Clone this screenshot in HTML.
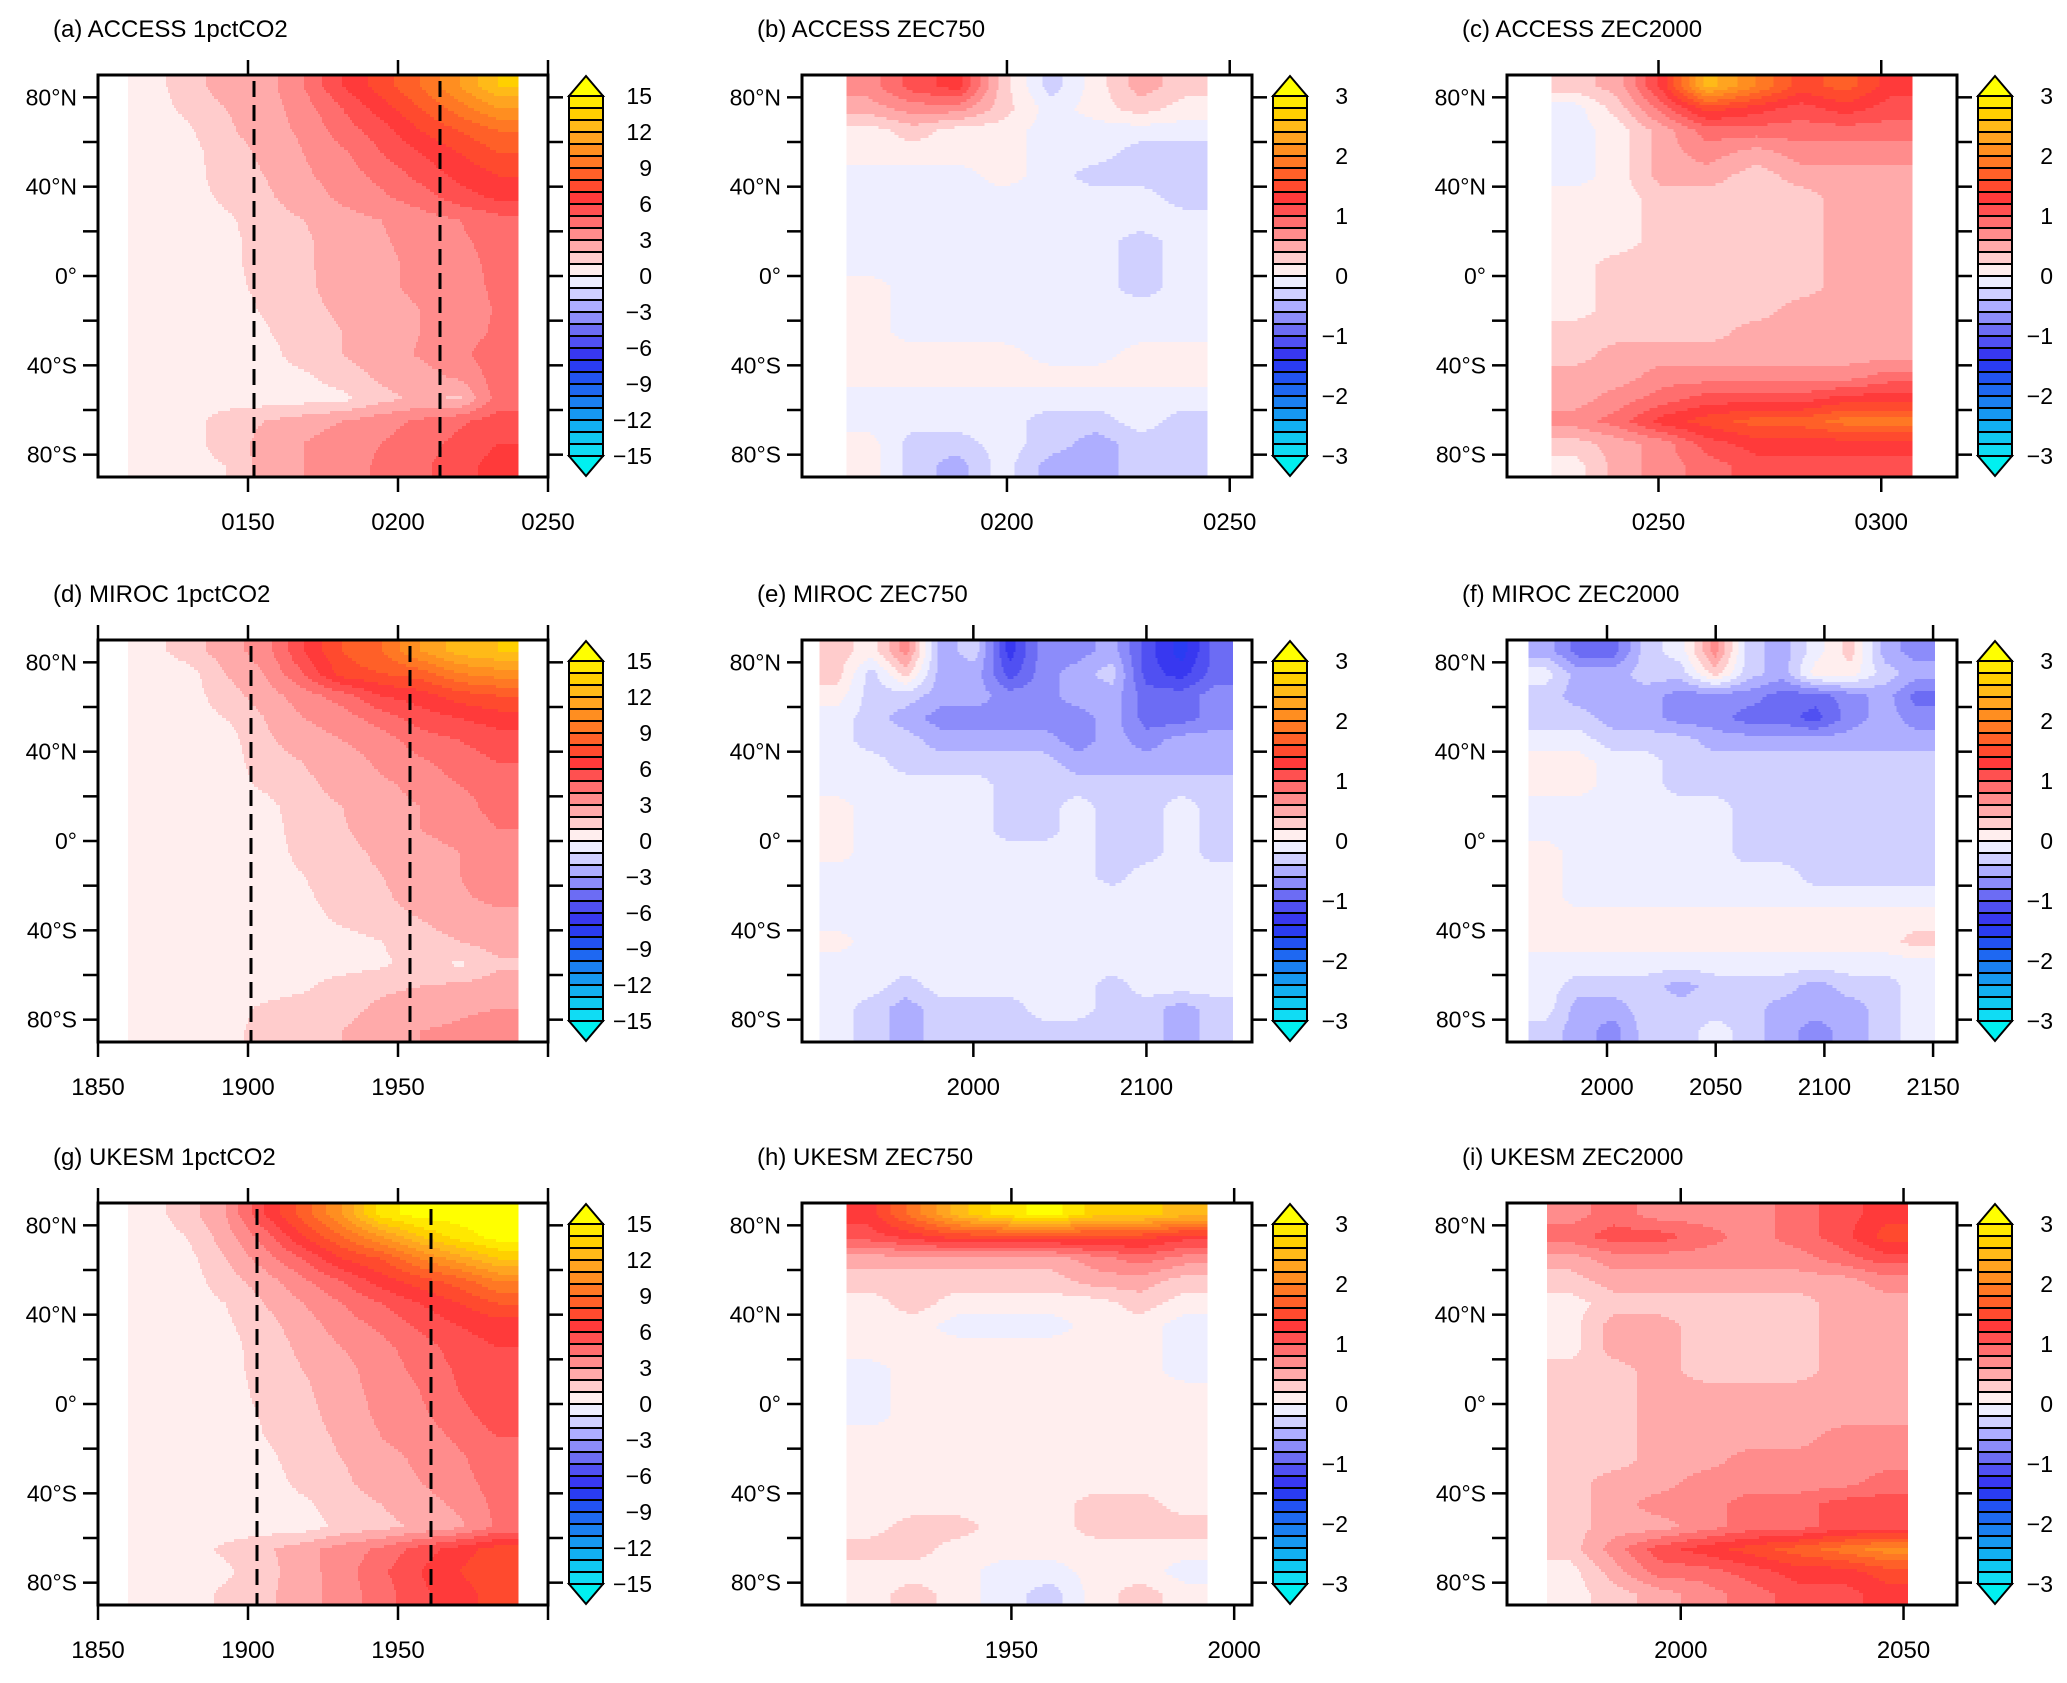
<!DOCTYPE html>
<html><head><meta charset="utf-8">
<style>
html,body{margin:0;padding:0;background:#fff;}
svg text{font-family:"Liberation Sans",Arial,sans-serif;fill:#000;}
</style></head>
<body>
<svg id="fig" xmlns="http://www.w3.org/2000/svg" width="2067" height="1678" viewBox="0 0 2067 1678">
<rect x="0" y="0" width="2067" height="1678" fill="#fff"/>
</svg>
<script>
// ---------- data ----------
const latCenters=[85,75,65,55,45,35,25,15,5,-5,-15,-25,-35,-45,-55,-65,-75,-85];
const latTicks=[80,60,40,20,0,-20,-40,-60,-80];
const latLabels=['80°N','','40°N','','0°','','40°S','','80°S'];
const cbLabels15=['15','12','9','6','3','0','−3','−6','−9','−12','−15'];
const cbValues15=[15,12,9,6,3,0,-3,-6,-9,-12,-15];
const cbLabels3=['3','2','1','0','−1','−2','−3'];
const cbValues3=[3,2,1,0,-1,-2,-3];

const aYears=[116.5,129.5,142.5,155.5,168.5,181.5,194.5,207.5,220.5,233.5];
const aValues=[
[0.5,1.5,2.5,2.5,4,6,7.5,9,11,13],
[0.5,1.2,2,2.5,3.5,5,6.5,8,9.5,11],
[0.5,0.8,1.8,2.5,3.2,4.5,5.5,7,8,9],
[0.5,0.6,1.5,2.2,3,3.8,5,6,7,8],
[0.5,0.5,1.5,2,2.8,3.5,4.3,5.3,6.3,7],
[0.5,0.5,1.2,1.8,2.5,3.2,3.8,4.5,5.5,6.2],
[0.5,0.5,0.8,1.5,2,2.6,3,3.5,4,4.6],
[0.5,0.5,0.7,1.4,1.8,2.5,2.9,3.3,3.8,4.4],
[0.5,0.5,0.7,1.4,1.8,2.5,2.8,3.2,3.6,4.3],
[0.5,0.5,0.6,1.3,1.8,2.4,2.8,3.2,3.6,4.2],
[0.5,0.5,0.5,1.1,1.7,2.2,2.7,3,3.5,4.1],
[0.5,0.5,0.5,0.9,1.5,2,2.5,3,3.5,4.2],
[0.5,0.5,0.5,0.6,1.5,2,2.6,3.1,3.8,4.5],
[0.5,0.5,0.5,0.5,0.8,1.5,2.2,2.6,3.2,4.5],
[0.5,0.5,0.5,0.5,0.6,0.7,1.7,2.2,1.8,4.5],
[0.5,0.5,1.5,2,2.5,3,3.6,4.2,4.8,5.5],
[0.5,0.5,1.5,2.3,3,3.6,4,4.6,5.3,6],
[0.5,0.5,1,2.5,3,3.5,4.2,4.8,5.5,6.5]];

const bYears=[169,179,189,199,210,220,230,240];
const bValues=[
[0.7,1.1,1.3,0.3,-0.3,0.1,0.5,0.3],
[0.5,0.7,0.7,0.3,-0.1,0.1,0.3,0.1],
[0.1,0.3,0.1,0.1,-0.1,-0.1,-0.1,-0.1],
[0.1,0.1,0.1,0.1,-0.1,-0.1,-0.3,-0.3],
[-0.1,-0.1,-0.1,0.1,-0.1,-0.3,-0.3,-0.3],
[-0.1,-0.1,-0.1,-0.1,-0.1,-0.1,-0.1,-0.3],
[-0.1,-0.1,-0.1,-0.1,-0.1,-0.1,-0.1,-0.1],
[-0.1,-0.1,-0.1,-0.1,-0.1,-0.1,-0.3,-0.1],
[-0.1,-0.1,-0.1,-0.1,-0.1,-0.1,-0.3,-0.1],
[0.1,-0.1,-0.1,-0.1,-0.1,-0.1,-0.3,-0.1],
[0.1,-0.1,-0.1,-0.1,-0.1,-0.1,-0.1,-0.1],
[0.1,-0.1,-0.1,-0.1,-0.1,-0.1,-0.1,-0.1],
[0.1,0.1,0.1,0.1,-0.1,-0.1,0.1,0.1],
[0.1,0.1,0.1,0.1,0.1,0.1,0.1,0.1],
[-0.1,-0.1,-0.1,-0.1,-0.1,-0.1,-0.1,-0.1],
[-0.1,-0.1,-0.1,-0.1,-0.3,-0.3,-0.1,-0.3],
[0.1,-0.3,-0.3,-0.1,-0.3,-0.5,-0.3,-0.3],
[0.1,-0.3,-0.5,-0.1,-0.5,-0.5,-0.3,-0.3]];

const cYears=[231,241,251,261,272,282,292,302];
const cValues=[
[0.3,0.5,1.3,2.5,2.0,1.5,1.7,1.3],
[-0.1,0.3,0.9,1.5,1.3,1.1,1.3,1.1],
[-0.1,0.1,0.5,0.9,0.9,0.9,0.9,0.9],
[-0.1,0.1,0.5,0.7,0.5,0.7,0.7,0.7],
[-0.1,0.1,0.5,0.5,0.3,0.5,0.5,0.5],
[0.1,0.1,0.3,0.3,0.3,0.3,0.5,0.5],
[0.1,0.1,0.3,0.3,0.3,0.3,0.5,0.5],
[0.1,0.1,0.3,0.3,0.3,0.3,0.5,0.5],
[0.1,0.3,0.3,0.3,0.3,0.3,0.5,0.5],
[0.1,0.3,0.3,0.3,0.3,0.3,0.5,0.5],
[0.1,0.3,0.3,0.3,0.3,0.5,0.5,0.5],
[0.3,0.3,0.3,0.3,0.5,0.5,0.5,0.5],
[0.3,0.5,0.5,0.5,0.5,0.5,0.5,0.5],
[0.5,0.5,0.7,0.7,0.7,0.7,0.7,0.9],
[0.5,0.7,0.9,1.1,1.1,1.1,1.3,1.3],
[0.7,0.9,1.3,1.5,1.7,1.7,1.9,1.9],
[0.3,0.5,0.7,1.1,1.3,1.3,1.3,1.3],
[0.1,0.5,0.7,0.9,1.1,1.1,1.1,1.1]];

const dYears=[1866.5,1879.5,1892.5,1905.5,1918.5,1931.5,1944.5,1957.5,1970.5,1983.5];
const dValues=[
[0.5,1.5,2.5,3.5,6,8,9,11,12.5,13],
[0.5,0.5,2,3,5,7.5,8,8.5,10,10.5],
[0.5,0.5,1.5,2.5,3.5,4.5,6,6.5,7.5,8],
[0.5,0.5,1,2,3,3.5,4.5,5.5,6,6.5],
[0.5,0.5,0.5,1.8,2.5,3,3.5,4.5,5,5.5],
[0.5,0.5,0.5,1.5,2,2.5,3.2,3.8,4.5,5],
[0.5,0.5,0.5,1.2,1.8,2.3,2.8,3.3,4,4.5],
[0.5,0.5,0.5,0.6,1.6,2,2.6,3,3.5,4.5],
[0.5,0.5,0.5,0.5,1.5,1.9,2.5,3,3.2,4],
[0.5,0.5,0.5,0.5,1.3,1.7,2.2,2.8,3,3.5],
[0.5,0.5,0.5,0.5,1,1.6,2,2.6,3,3.5],
[0.5,0.5,0.5,0.5,0.8,1.5,1.8,2.5,2.9,3.2],
[0.5,0.5,0.5,0.5,0.6,1.2,1.6,2,2.6,2.8],
[0.5,0.5,0.5,0.5,0.5,0.6,1,1.5,2,2.5],
[0.5,0.5,0.5,0.5,0.5,0.5,0.8,1.5,0.8,1.8],
[0.5,0.5,0.5,0.5,0.8,1.5,1.8,2,2.2,2.5],
[0.5,0.5,0.5,1.2,1.5,1.7,2.2,2.5,2.8,3],
[0.5,0.5,0.5,1.5,1.6,2,2.5,3,3.2,3.5]];

const eYears=[1921,1941,1961,1981,2001,2021,2040,2060,2080,2100,2120,2140];
const eValues=[
[0.3,0.1,0.7,-0.5,-0.3,-1.3,-0.7,-0.7,-0.5,-1.1,-1.5,-0.9],
[0.3,-0.3,0.3,-0.5,-0.5,-1.1,-0.7,-0.5,-0.3,-1.1,-1.3,-0.9],
[0.1,-0.3,-0.3,-0.5,-0.5,-0.7,-0.7,-0.5,-0.5,-0.9,-0.9,-0.7],
[-0.1,-0.3,-0.5,-0.7,-0.7,-0.7,-0.7,-0.7,-0.5,-0.9,-0.9,-0.7],
[-0.1,-0.3,-0.3,-0.5,-0.5,-0.5,-0.5,-0.7,-0.5,-0.7,-0.5,-0.5],
[-0.1,-0.1,-0.3,-0.3,-0.3,-0.3,-0.3,-0.5,-0.5,-0.5,-0.5,-0.5],
[-0.1,-0.1,-0.1,-0.1,-0.1,-0.3,-0.3,-0.3,-0.3,-0.3,-0.3,-0.3],
[0.1,-0.1,-0.1,-0.1,-0.1,-0.3,-0.3,-0.1,-0.3,-0.3,-0.1,-0.3],
[0.1,-0.1,-0.1,-0.1,-0.1,-0.3,-0.3,-0.1,-0.3,-0.3,-0.1,-0.3],
[0.1,-0.1,-0.1,-0.1,-0.1,-0.1,-0.1,-0.1,-0.3,-0.3,-0.1,-0.3],
[-0.1,-0.1,-0.1,-0.1,-0.1,-0.1,-0.1,-0.1,-0.3,-0.1,-0.1,-0.1],
[-0.1,-0.1,-0.1,-0.1,-0.1,-0.1,-0.1,-0.1,-0.1,-0.1,-0.1,-0.1],
[-0.1,-0.1,-0.1,-0.1,-0.1,-0.1,-0.1,-0.1,-0.1,-0.1,-0.1,-0.1],
[0.1,-0.1,-0.1,-0.1,-0.1,-0.1,-0.1,-0.1,-0.1,-0.1,-0.1,-0.1],
[-0.1,-0.1,-0.1,-0.1,-0.1,-0.1,-0.1,-0.1,-0.1,-0.1,-0.1,-0.1],
[-0.1,-0.1,-0.3,-0.1,-0.1,-0.1,-0.1,-0.1,-0.3,-0.1,-0.1,-0.1],
[-0.1,-0.3,-0.5,-0.3,-0.3,-0.3,-0.1,-0.1,-0.3,-0.3,-0.5,-0.3],
[-0.1,-0.3,-0.5,-0.3,-0.3,-0.3,-0.3,-0.3,-0.3,-0.3,-0.5,-0.3]];

const fYears=[1972,1987,2003,2018,2034,2050,2065,2081,2096,2112,2128,2143];
const fValues=[
[-0.5,-0.9,-0.9,-0.3,-0.1,0.7,-0.3,-0.5,-0.1,0.3,-0.5,-0.7],
[-0.1,-0.5,-0.5,-0.3,-0.3,0.3,-0.3,-0.5,0.1,0.1,-0.3,-0.5],
[-0.3,-0.5,-0.5,-0.5,-0.7,-0.7,-0.7,-0.9,-0.9,-0.7,-0.5,-0.9],
[-0.3,-0.3,-0.5,-0.5,-0.7,-0.7,-0.9,-0.9,-1.1,-0.7,-0.5,-0.7],
[-0.1,-0.1,-0.3,-0.3,-0.3,-0.5,-0.5,-0.5,-0.5,-0.5,-0.5,-0.5],
[0.1,0.1,-0.1,-0.1,-0.3,-0.3,-0.3,-0.3,-0.3,-0.3,-0.3,-0.3],
[0.1,0.1,-0.1,-0.1,-0.3,-0.3,-0.3,-0.3,-0.3,-0.3,-0.3,-0.3],
[-0.1,-0.1,-0.1,-0.1,-0.1,-0.1,-0.3,-0.3,-0.3,-0.3,-0.3,-0.3],
[-0.1,-0.1,-0.1,-0.1,-0.1,-0.1,-0.3,-0.3,-0.3,-0.3,-0.3,-0.3],
[0.1,-0.1,-0.1,-0.1,-0.1,-0.1,-0.3,-0.3,-0.3,-0.3,-0.3,-0.3],
[0.1,-0.1,-0.1,-0.1,-0.1,-0.1,-0.1,-0.1,-0.3,-0.3,-0.3,-0.3],
[0.1,-0.1,-0.1,-0.1,-0.1,-0.1,-0.1,-0.1,-0.1,-0.1,-0.1,-0.1],
[0.1,0.1,0.1,0.1,0.1,0.1,0.1,0.1,0.1,0.1,0.1,0.1],
[0.1,0.1,0.1,0.1,0.1,0.1,0.1,0.1,0.1,0.1,0.1,0.3],
[-0.1,-0.1,-0.1,-0.1,-0.1,-0.1,-0.1,-0.1,-0.1,-0.1,-0.1,-0.1],
[-0.1,-0.3,-0.3,-0.3,-0.5,-0.3,-0.3,-0.3,-0.5,-0.3,-0.3,-0.1],
[-0.1,-0.5,-0.5,-0.3,-0.3,-0.3,-0.3,-0.5,-0.5,-0.5,-0.3,-0.1],
[-0.3,-0.5,-0.7,-0.3,-0.3,-0.1,-0.3,-0.5,-0.7,-0.5,-0.3,-0.1]];

const gYears=[1866.5,1879.5,1892.5,1905.5,1918.5,1931.5,1944.5,1957.5,1970.5,1983.5];
const gValues=[
[0.5,1.5,3,6,8.5,11,14.5,15.5,15.5,15.5],
[0.5,1,2.5,4.5,7,9,11,13,14.5,15.5],
[0.5,0.6,2,3.5,5,7,8,10,11.5,13],
[0.5,0.5,1.5,2.5,3.8,5,6.5,7.5,8.5,10],
[0.5,0.5,1,2,3,4,5,6,7,8],
[0.5,0.5,0.8,1.6,2.5,3.5,4.2,5.2,6,6.5],
[0.5,0.5,0.6,1.5,2.2,3,3.7,4.5,5.5,6],
[0.5,0.5,0.5,1.5,2,2.6,3.6,4.2,5.2,5.8],
[0.5,0.5,0.5,1.3,1.8,2.6,3.3,4,5,6],
[0.5,0.5,0.5,1.1,1.6,2.5,3.2,3.8,4.6,5.6],
[0.5,0.5,0.5,1,1.5,2.2,3,3.5,4.2,5],
[0.5,0.5,0.5,0.7,1.5,2,2.6,3.2,3.8,4.8],
[0.5,0.5,0.5,0.5,1.3,1.8,2.5,3,3.6,4.5],
[0.5,0.5,0.5,0.5,0.8,1.5,2,2.6,3.2,4.3],
[0.5,0.5,0.5,0.5,0.5,1.3,1.7,2.2,2.8,4.2],
[0.5,0.5,1.2,1.8,2.6,3.5,4.2,5.5,6.5,7.5],
[0.5,0.5,0.8,1.6,2.6,3.5,4.8,6,7,8],
[0.5,0.5,1.2,1.8,2.5,3.5,4.5,5.8,6.5,7.5]];

const hYears=[1918,1928,1938,1948,1959,1969,1979,1989];
const hValues=[
[1.3,1.9,2.5,2.9,3.1,2.7,2.7,2.5],
[1.1,1.3,1.5,1.5,1.5,1.5,1.5,1.3],
[0.5,0.5,0.5,0.5,0.5,0.7,0.9,0.7],
[0.3,0.3,0.3,0.3,0.3,0.5,0.5,0.3],
[0.1,0.3,0.1,0.1,0.1,0.1,0.3,0.1],
[0.1,0.1,-0.1,-0.1,-0.1,0.1,0.1,-0.1],
[0.1,0.1,0.1,0.1,0.1,0.1,0.1,-0.1],
[-0.1,0.1,0.1,0.1,0.1,0.1,0.1,-0.1],
[-0.1,0.1,0.1,0.1,0.1,0.1,0.1,0.1],
[-0.1,0.1,0.1,0.1,0.1,0.1,0.1,0.1],
[0.1,0.1,0.1,0.1,0.1,0.1,0.1,0.1],
[0.1,0.1,0.1,0.1,0.1,0.1,0.1,0.1],
[0.1,0.1,0.1,0.1,0.1,0.1,0.1,0.1],
[0.1,0.1,0.1,0.1,0.1,0.3,0.3,0.1],
[0.1,0.3,0.3,0.1,0.1,0.3,0.3,0.3],
[0.3,0.3,0.1,0.1,0.1,0.1,0.1,0.1],
[0.1,0.1,0.1,-0.1,-0.1,0.1,0.1,-0.1],
[0.1,0.3,0.1,-0.1,-0.3,0.1,0.3,0.1]];

const iYears=[1975,1985,1995,2005,2016,2026,2036,2046];
const iValues=[
[0.7,0.9,0.7,0.7,0.7,0.9,1.1,1.3],
[0.9,1.1,1.1,0.9,0.7,0.9,1.1,1.5],
[0.5,0.7,0.7,0.7,0.7,0.7,0.9,1.1],
[0.3,0.5,0.5,0.5,0.5,0.5,0.5,0.7],
[0.1,0.3,0.3,0.3,0.3,0.3,0.5,0.5],
[0.1,0.5,0.5,0.3,0.3,0.3,0.5,0.5],
[0.1,0.5,0.5,0.3,0.3,0.3,0.5,0.5],
[0.3,0.3,0.5,0.3,0.3,0.3,0.5,0.5],
[0.3,0.3,0.5,0.5,0.5,0.5,0.5,0.5],
[0.3,0.3,0.5,0.5,0.5,0.5,0.5,0.5],
[0.3,0.3,0.5,0.5,0.5,0.5,0.7,0.7],
[0.3,0.3,0.5,0.5,0.7,0.7,0.7,0.7],
[0.3,0.5,0.5,0.7,0.7,0.7,0.7,0.9],
[0.3,0.5,0.7,0.7,0.9,0.9,1.1,1.1],
[0.3,0.5,0.5,0.7,0.9,0.9,1.1,1.1],
[0.3,0.7,1.1,1.3,1.5,1.7,1.9,2.1],
[0.1,0.5,0.9,0.9,1.1,1.3,1.3,1.5],
[0.1,0.3,0.5,0.7,0.9,1.1,1.1,1.3]];

const aTicks=[150,200,250], aTickLabels=['0150','0200','0250'], aDashes=[152,214];
const bTicks=[200,250], bTickLabels=['0200','0250'];
const cTicks=[250,300], cTickLabels=['0250','0300'];
const dTicks=[1850,1900,1950,2000], dTickLabels=['1850','1900','1950',''], dDashes=[1901,1954];
const eTicks=[2000,2100], eTickLabels=['2000','2100'];
const fTicks=[2000,2050,2100,2150], fTickLabels=['2000','2050','2100','2150'];
const gTicks=[1850,1900,1950,2000], gTickLabels=['1850','1900','1950',''], gDashes=[1903,1961];
const hTicks=[1950,2000], hTickLabels=['1950','2000'];
const iTicks=[2000,2050], iTickLabels=['2000','2050'];
</script>
<script>
const PAL=['#10dcf4','#10c8f2','#12b0f2','#1698f2','#1a80f2','#1e68f2','#2252f2','#2a3cf2','#3838f0','#5050f2','#6c6cf4','#8c8cfa','#aeaeff','#d0d0ff','#eeeeff',
'#ffeeee','#ffcccc','#ffaaaa','#ff8c8c','#ff6e6e','#ff5050','#ff3a3a','#ff4a2e','#ff6028','#ff7824','#ff8e20','#ffa420','#ffba18','#ffd000','#ffe800'];
const OVER='#ffff00', UNDER='#00f0f0';

const NS='http://www.w3.org/2000/svg';
const svg=document.getElementById('fig');
const colX=[98,802,1507], rowY=[75,640,1203], W=450, H=402;

const panels=[
 {id:'a',title:'(a) ACCESS 1pctCO2',c:0,r:0,x0:100,x1:250,ds:110,de:240,years:aYears,vals:aValues,ticks:aTicks,labels:aTickLabels,dashes:aDashes,max:15},
 {id:'b',title:'(b) ACCESS ZEC750',c:1,r:0,x0:154,x1:255,ds:164,de:245,years:bYears,vals:bValues,ticks:bTicks,labels:bTickLabels,dashes:[],max:3},
 {id:'c',title:'(c) ACCESS ZEC2000',c:2,r:0,x0:216,x1:317,ds:226,de:307,years:cYears,vals:cValues,ticks:cTicks,labels:cTickLabels,dashes:[],max:3},
 {id:'d',title:'(d) MIROC 1pctCO2',c:0,r:1,x0:1850,x1:2000,ds:1860,de:1990,years:dYears,vals:dValues,ticks:dTicks,labels:dTickLabels,dashes:dDashes,max:15},
 {id:'e',title:'(e) MIROC ZEC750',c:1,r:1,x0:1901,x1:2161,ds:1911,de:2150,years:eYears,vals:eValues,ticks:eTicks,labels:eTickLabels,dashes:[],max:3},
 {id:'f',title:'(f) MIROC ZEC2000',c:2,r:1,x0:1954,x1:2161,ds:1964,de:2151,years:fYears,vals:fValues,ticks:fTicks,labels:fTickLabels,dashes:[],max:3},
 {id:'g',title:'(g) UKESM 1pctCO2',c:0,r:2,x0:1850,x1:2000,ds:1860,de:1990,years:gYears,vals:gValues,ticks:gTicks,labels:gTickLabels,dashes:gDashes,max:15},
 {id:'h',title:'(h) UKESM ZEC750',c:1,r:2,x0:1903,x1:2004,ds:1913,de:1994,years:hYears,vals:hValues,ticks:hTicks,labels:hTickLabels,dashes:[],max:3},
 {id:'i',title:'(i) UKESM ZEC2000',c:2,r:2,x0:1961,x1:2062,ds:1970,de:2051,years:iYears,vals:iValues,ticks:iTicks,labels:iTickLabels,dashes:[],max:3}
];

function mk(tag,attrs,parent){const e=document.createElementNS(NS,tag);for(const k in attrs)e.setAttribute(k,attrs[k]);(parent||svg).appendChild(e);return e;}

function colorFor(v,max){
  const step=max/15;
  const b=Math.floor((v+max)/step);
  if(b<0) return UNDER;
  if(b>=30) return OVER;
  return PAL[b];
}
function interp1(arr,t){
  if(t<=arr[0]) return [0,0,0];
  const n=arr.length;
  if(t>=arr[n-1]) return [n-1,n-1,0];
  for(let i=0;i<n-1;i++){ if(t>=arr[i]&&t<=arr[i+1]) return [i,i+1,(t-arr[i])/(arr[i+1]-arr[i])]; }
  return [n-1,n-1,0];
}
const negLat=latCenters.map(l=>-l);
function sample(p,yr,lat){
  const [j0,j1,fx]=interp1(p.years,yr);
  const [i0,i1,fy]=interp1(negLat,-lat);
  const v=p.vals;
  const a=v[i0][j0]*(1-fx)+v[i0][j1]*fx;
  const b=v[i1][j0]*(1-fx)+v[i1][j1]*fx;
  return a*(1-fy)+b*fy;
}

panels.forEach(p=>{
  const bx=colX[p.c], by=rowY[p.r];
  const g=mk('g',{});
  
  
  const xs=yr=>bx+(yr-p.x0)/(p.x1-p.x0)*W;
  const ys=lat=>by+(90-lat)/180*H;
  const t=mk('text',{x:bx-45,y:by-38,'font-size':24},g);
  t.textContent=p.title;
  
  
  const hm=mk('g',{'shape-rendering':'crispEdges'},g);
  
  
  const xa=xs(p.ds), xb=xs(p.de);
  const dy=3, dx=2;
  for(let y=by;y<by+H;y+=dy){
    const lat=90-((y+dy/2)-by)/H*180;
    let runStart=xa, runCol=null;
    for(let x=xa;x<xb+0.001;x+=dx){
      const yr=p.x0+((x+dx/2)-bx)/W*(p.x1-p.x0);
      const col=x>=xb?null:colorFor(sample(p,yr,lat),p.max);
      if(col!==runCol){
        if(runCol!==null){
          const r=mk('rect',{x:runStart.toFixed(1),y:y,width:(Math.min(x,xb)-runStart+0.4).toFixed(1),height:dy+0.3,fill:runCol},hm);
          
          
        }
        runStart=x; runCol=col;
      }
    }
    if(runCol!==null){
      const r=mk('rect',{x:runStart.toFixed(1),y:y,width:(xb-runStart).toFixed(1),height:dy+0.3,fill:runCol},hm);
      
      
    }
  }
  p.dashes.forEach(d=>{
    const l=mk('line',{x1:xs(d),x2:xs(d),y1:by+6,y2:by+H,stroke:'#000','stroke-width':3,'stroke-dasharray':'16 8'},g);
    
    
  });
  const fr=mk('rect',{x:bx,y:by,width:W,height:H,fill:'none',stroke:'#000','stroke-width':3},g);
  
  
  latTicks.forEach((lt,k)=>{
    const y=ys(lt);
    mk('line',{x1:bx-15,x2:bx,y1:y,y2:y,stroke:'#000','stroke-width':2.5},g);
    mk('line',{x1:bx+W,x2:bx+W+15,y1:y,y2:y,stroke:'#000','stroke-width':2.5},g);
    if(latLabels[k]){
      const tl=mk('text',{x:bx-21,y:y+8,'font-size':23,'text-anchor':'end'},g);
      tl.textContent=latLabels[k];
      
      
    }
  });
  p.ticks.forEach((tk,k)=>{
    const x=xs(tk);
    mk('line',{x1:x,x2:x,y1:by-15,y2:by,stroke:'#000','stroke-width':2.5},g);
    mk('line',{x1:x,x2:x,y1:by+H,y2:by+H+15,stroke:'#000','stroke-width':2.5},g);
    if(p.labels[k]){
      const tl=mk('text',{x:x,y:by+H+53,'font-size':24,'text-anchor':'middle'},g);
      tl.textContent=p.labels[k];
      
      
    }
  });
  const cb=mk('g',{},g);
  
  
  const cx=bx+471, cw=34, ct=by+21, ch=360, bh=ch/30;
  for(let k=0;k<30;k++){
    const r=mk('rect',{x:cx,y:ct+ch-(k+1)*bh,width:cw,height:bh,fill:PAL[k],stroke:'#000','stroke-width':2},cb);
    
    
  }
  const tri1=mk('polygon',{points:`${cx},${ct} ${cx+cw},${ct} ${cx+cw/2},${by+1}`,fill:OVER,stroke:'#000','stroke-width':2},cb);
  
  
  const tri2=mk('polygon',{points:`${cx},${ct+ch} ${cx+cw},${ct+ch} ${cx+cw/2},${by+H-1}`,fill:UNDER,stroke:'#000','stroke-width':2},cb);
  
  
  const cl=p.max===15?cbLabels15:cbLabels3, cv=p.max===15?cbValues15:cbValues3;
  cv.forEach((v,k)=>{
    const y=ct+(p.max-v)/(2*p.max)*ch;
    const tl=mk('text',{x:bx+(p.max===15?554:546),y:y+8,'font-size':23,'text-anchor':'end'},cb);
    tl.textContent=cl[k];
    
    
  });
});
</script>
</body></html>
